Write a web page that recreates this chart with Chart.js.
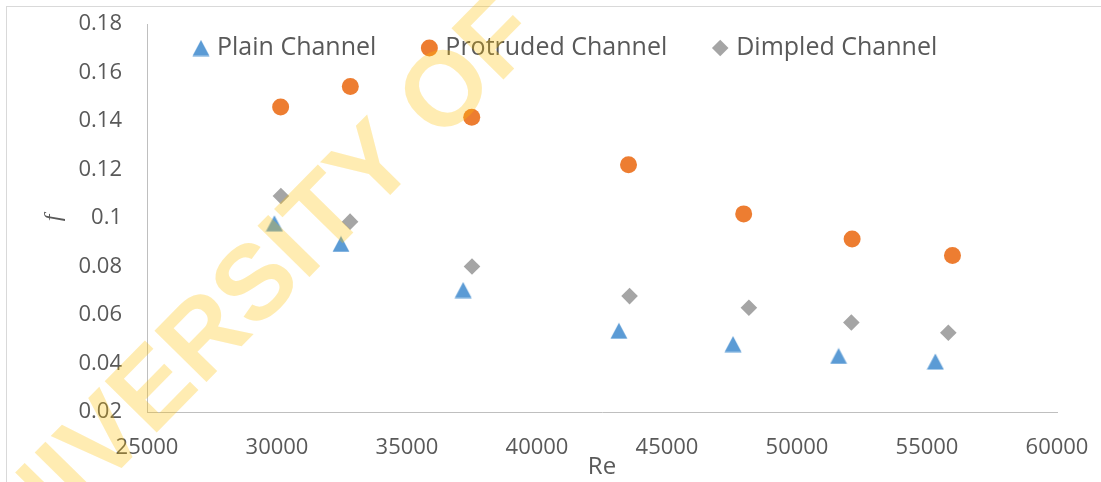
<!DOCTYPE html>
<html>
<head>
<meta charset="utf-8">
<script src="https://cdn.jsdelivr.net/npm/chart.js@4.4.1/dist/chart.umd.min.js"></script>
<style>
  html, body { margin: 0; padding: 0; background: #fff; }
  canvas { display: block; }
</style>
</head>
<body>
<canvas id="chart" width="1101" height="482"></canvas>
<script>
// values
var plainRe = [29900, 32460, 37160, 43150, 47540, 51600, 55320];
var plainF  = [0.0978, 0.0893, 0.0703, 0.0535, 0.0480, 0.0431, 0.0408];
var protRe  = [30140, 32820, 37490, 43520, 47950, 52120, 55980];
var protF   = [0.1458, 0.1542, 0.1415, 0.1220, 0.1017, 0.0913, 0.0845];
var dimpRe  = [30150, 32810, 37500, 43560, 48150, 52090, 55820];
var dimpF   = [0.1091, 0.0985, 0.0800, 0.0678, 0.0630, 0.0569, 0.0527];

var seriesNames = ['Plain Channel', 'Protruded Channel', 'Dimpled Channel'];
var xTickLabels = ['25000', '30000', '35000', '40000', '45000', '50000', '55000', '60000'];
var yTickLabels = ['0.02', '0.04', '0.06', '0.08', '0.1', '0.12', '0.14', '0.16', '0.18'];

var textColor = '#595959';
var tickFont = { family: 'Open Sans', size: 22 };
var legendFont = '25px "Open Sans"';

function pts(xs, ys) {
    return xs.map(function (x, i) { return { x: x, y: ys[i] }; });
}

// excel-like triangle, centred on its bounding box
function triangleImage(color) {
    var c = document.createElement('canvas');
    c.width = 18; c.height = 17;
    var g = c.getContext('2d');
    g.fillStyle = color;
    g.beginPath();
    g.moveTo(9, 0.5);
    g.lineTo(17.5, 16.5);
    g.lineTo(0.5, 16.5);
    g.closePath();
    g.fill();
    return c;
}

var triBlue = triangleImage('#5B9BD5');

var frame = {
    id: 'frame',
    beforeDraw: function (chart) {
        var ctx = chart.ctx;
        ctx.save();
        ctx.fillStyle = '#fff';
        ctx.fillRect(0, 0, chart.width, chart.height);
        ctx.strokeStyle = '#D9D9D9';
        ctx.lineWidth = 1;
        ctx.strokeRect(6.5, 6.5, 1300, 1300);
        ctx.restore();
    }
};

var legendBox = {
    id: 'legendBox',
    afterDatasetsDraw: function (chart) {
        var ctx = chart.ctx;
        ctx.save();
        ctx.font = legendFont;
        ctx.textBaseline = 'middle';
        var x = 192, y = 48;
        chart.data.datasets.forEach(function (ds) {
            ctx.fillStyle = ds.backgroundColor;
            Chart.helpers.drawPoint(ctx, {
                pointStyle: ds.pointStyle,
                radius: ds.pointRadius,
                borderWidth: 0
            }, x + 9, y);
            ctx.fillStyle = textColor;
            ctx.fillText(ds.label, x + 25, y);
            x += 25 + ctx.measureText(ds.label).width + 44;
        });
        ctx.restore();
    }
};

var watermark = {
    id: 'watermark',
    afterDraw: function (chart) {
        var ctx = chart.ctx;
        var size = 106;
        ctx.save();
        ctx.font = 'bold ' + size + 'px "Liberation Sans"';
        ctx.fillStyle = 'rgba(255, 192, 0, 0.3)';
        // anchored on the centre of the "V"
        ctx.translate(100, 436);
        ctx.rotate(-45.5 * Math.PI / 180);
        var off = ctx.measureText('UNI').width + ctx.measureText('V').width / 2;
        ctx.textBaseline = 'alphabetic';
        ctx.fillText('UNIVERSITY OF', -off, 0.358 * size);
        ctx.restore();
    }
};

function noPadding(s) {
    s.paddingLeft = 0; s.paddingRight = 0;
    s.paddingTop = 0; s.paddingBottom = 0;
}

var ctx = document.getElementById('chart').getContext('2d');
var myChart = new Chart(ctx, {
    type: 'scatter',
    data: {
        datasets: [{
            label: seriesNames[0],
            data: pts(plainRe, plainF),
            pointStyle: triBlue,
            pointRadius: 9,
            backgroundColor: '#5B9BD5',
            borderWidth: 0
        }, {
            label: seriesNames[1],
            data: pts(protRe, protF),
            pointStyle: 'circle',
            pointRadius: 8.5,
            backgroundColor: '#ED7D31',
            borderWidth: 0
        }, {
            label: seriesNames[2],
            data: pts(dimpRe, dimpF),
            pointStyle: 'rectRot',
            pointRadius: 8.3,
            backgroundColor: '#A5A5A5',
            borderWidth: 0
        }]
    },
    options: {
        responsive: false,
        animation: false,
        layout: {
            padding: { left: 39, top: 24, right: 44, bottom: 0 }
        },
        plugins: {
            legend: { display: false },
            tooltip: { enabled: false }
        },
        scales: {
            x: {
                type: 'linear',
                min: 25000,
                max: 60000,
                afterFit: function (s) { s.height = 70; noPadding(s); },
                ticks: {
                    stepSize: 5000,
                    padding: 23,
                    color: textColor,
                    font: tickFont,
                    maxRotation: 0,
                    callback: function (v, i) { return xTickLabels[i]; }
                },
                grid: { display: false, drawTicks: false },
                border: { display: true, color: '#BFBFBF', width: 1 },
                title: {
                    display: true,
                    text: 'Re',
                    color: textColor,
                    font: { family: 'Open Sans', size: 24 },
                    padding: 0
                }
            },
            y: {
                min: 0.02,
                max: 0.18,
                afterFit: function (s) { s.width = 108; noPadding(s); },
                ticks: {
                    stepSize: 0.02,
                    padding: 25,
                    color: textColor,
                    font: tickFont,
                    callback: function (v, i) { return yTickLabels[i]; }
                },
                grid: { display: false, drawTicks: false },
                border: { display: true, color: '#BFBFBF', width: 1 },
                title: {
                    display: true,
                    text: 'f',
                    color: textColor,
                    font: { family: 'Liberation Serif', size: 24, style: 'italic' },
                    padding: 0
                }
            }
        }
    },
    plugins: [frame, legendBox, watermark]
});
</script>
</body>
</html>
